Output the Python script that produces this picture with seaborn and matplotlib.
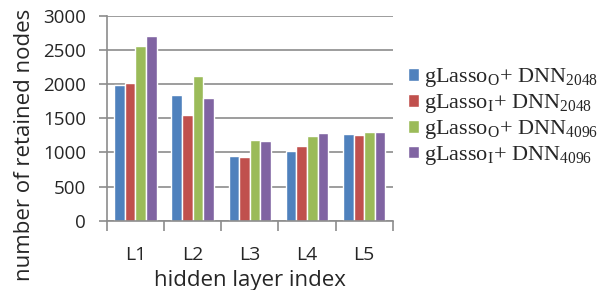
import matplotlib
matplotlib.use("Agg")
import matplotlib.pyplot as plt
import seaborn as sns
import pandas as pd
import numpy as np

layers = ["L1", "L2", "L3", "L4", "L5"]
series = [r"gLasso$_\mathrm{O}$+ DNN$_{\mathrm{2048}}$",
          r"gLasso$_\mathrm{I}$+ DNN$_{\mathrm{2048}}$",
          r"gLasso$_\mathrm{O}$+ DNN$_{\mathrm{4096}}$",
          r"gLasso$_\mathrm{I}$+ DNN$_{\mathrm{4096}}$"]
glo_2048 = [1990, 1840, 950, 1020, 1270]
gli_2048 = [2020, 1555, 930, 1090, 1255]
glo_4096 = [2555, 2115, 1185, 1240, 1295]
gli_4096 = [2710, 1795, 1170, 1280, 1295]
colors = ["#4F81BD", "#C0504D", "#9BBB59", "#8064A2"]

rows = []
for name, vals in zip(series, [glo_2048, gli_2048, glo_4096, gli_4096]):
    for l, v in zip(layers, vals):
        rows.append({"layer": l, "series": name, "value": v})
df = pd.DataFrame(rows)

sns.set_style("white")
plt.rcParams["font.family"] = ["Open Sans", "DejaVu Sans"]
plt.rcParams["mathtext.fontset"] = "custom"
plt.rcParams["mathtext.rm"] = "Liberation Serif"

fig = plt.figure(figsize=(6.07, 2.90), dpi=100)
ax = fig.add_axes([0.176, 0.239, 0.471, 0.706])
sns.barplot(data=df, x="layer", y="value", hue="series", palette=colors,
            width=0.74, ax=ax, saturation=1, zorder=3)

ax.set_ylim(0, 3000)
ax.set_xlim(-0.5, 4.5)
ax.set_yticks(range(0, 3001, 500))
ax.yaxis.grid(True, color="#8c8c8c", linewidth=1.2, zorder=0)
ax.set_axisbelow(True)
for s in ["top", "right"]:
    ax.spines[s].set_visible(False)
for s in ["left", "bottom"]:
    ax.spines[s].set_color("#8c8c8c")
    ax.spines[s].set_linewidth(1.2)
ax.spines["bottom"].set_zorder(5)
ax.tick_params(axis="y", length=6, color="#8c8c8c", width=1.2, labelsize=13.5, pad=9, left=True)
ax.tick_params(axis="x", which="major", length=0, labelsize=14, pad=18.5)
ax.set_xticks(np.arange(-0.5, 5.0, 1.0), minor=True)
ax.tick_params(axis="x", which="minor", length=7, color="#8c8c8c", width=1.2, bottom=True)

ax.set_xlabel("hidden layer index", fontsize=16)
ax.xaxis.set_label_coords(0.5, -0.24)
ax.set_ylabel("number of retained nodes", fontsize=16)
ax.yaxis.set_label_coords(-0.25, 0.37)

leg = ax.legend(loc="upper left", bbox_to_anchor=(1.0, 0.83), frameon=False,
                prop={"family": "Liberation Serif", "size": 16},
                handlelength=0.5, handleheight=0.5, handletextpad=0.2,
                labelspacing=0.13, borderaxespad=0.3)

fig.savefig("out.png", dpi=100)
